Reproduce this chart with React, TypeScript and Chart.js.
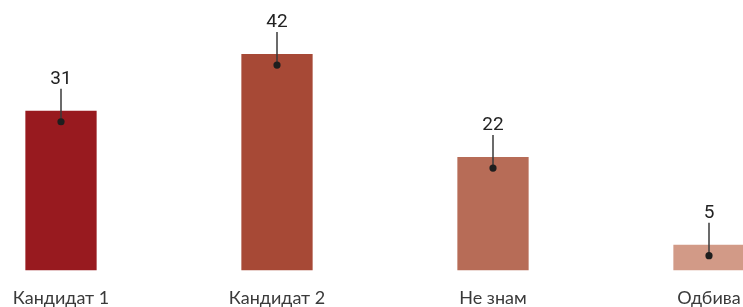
import React, { useEffect, useRef } from "react";
import { Chart, registerables } from "chart.js";

Chart.register(...registerables);

const categories = ["Кандидат 1", "Кандидат 2", "Не знам", "Одбива"];
const values = [31, 42, 22, 5];
const barColors = ["#981a1f", "#a74936", "#b76c57", "#d29a87"];

const leaderPlugin = {
  id: "leaders",
  afterDatasetsDraw(chart: any) {
    const ctx = chart.ctx;
    const meta = chart.getDatasetMeta(0);
    const data = chart.data.datasets[0].data;
    ctx.save();
    meta.data.forEach((bar: any, i: number) => {
      const x = bar.x;
      const y = bar.y;
      const dotY = y + 11;
      ctx.strokeStyle = "#3a3a3a";
      ctx.lineWidth = 1.5;
      ctx.beginPath();
      ctx.moveTo(x, dotY);
      ctx.lineTo(x, y - 22);
      ctx.stroke();
      ctx.fillStyle = "#1e1e1e";
      ctx.beginPath();
      ctx.arc(x, dotY, 3.6, 0, Math.PI * 2);
      ctx.fill();
      ctx.fillStyle = "#222222";
      ctx.font = "19px Roboto";
      ctx.textAlign = "center";
      ctx.textBaseline = "alphabetic";
      ctx.fillText(String(data[i]), x, y - 27);
    });
    ctx.restore();
  },
};

export default function App() {
  const ref = useRef<HTMLCanvasElement | null>(null);
  useEffect(() => {
    if (!ref.current) return;
    const chart = new Chart(ref.current, {
      type: "bar",
      data: {
        labels: categories,
        datasets: [
          {
            data: values,
            backgroundColor: barColors,
            borderWidth: 0,
            categoryPercentage: 1,
            barPercentage: 0.33,
          },
        ],
      },
      options: {
        animation: false,
        responsive: true,
        maintainAspectRatio: false,
        layout: { padding: 0 },
        plugins: { legend: { display: false }, tooltip: { enabled: false } },
        scales: {
          x: {
            grid: { display: false, drawTicks: false },
            border: { display: false },
            ticks: {
              padding: 17,
              color: "#3a3a3a",
              font: { family: "Lato", size: 18 },
              maxRotation: 0,
              autoSkip: false,
            },
          },
          y: {
            display: false,
            min: 0,
            max: 52.5,
          },
        },
      },
      plugins: [leaderPlugin],
    });
    return () => chart.destroy();
  }, []);
  return (
    <div
      style={{
        position: "fixed",
        left: 0,
        top: 0,
        width: "743px",
        height: "307px",
        overflow: "hidden",
        background: "#ffffff",
      }}
    >
      <div style={{ position: "absolute", left: "-47px", top: 0, width: "864px", height: "326px" }}>
        <canvas ref={ref} />
      </div>
    </div>
  );
}
